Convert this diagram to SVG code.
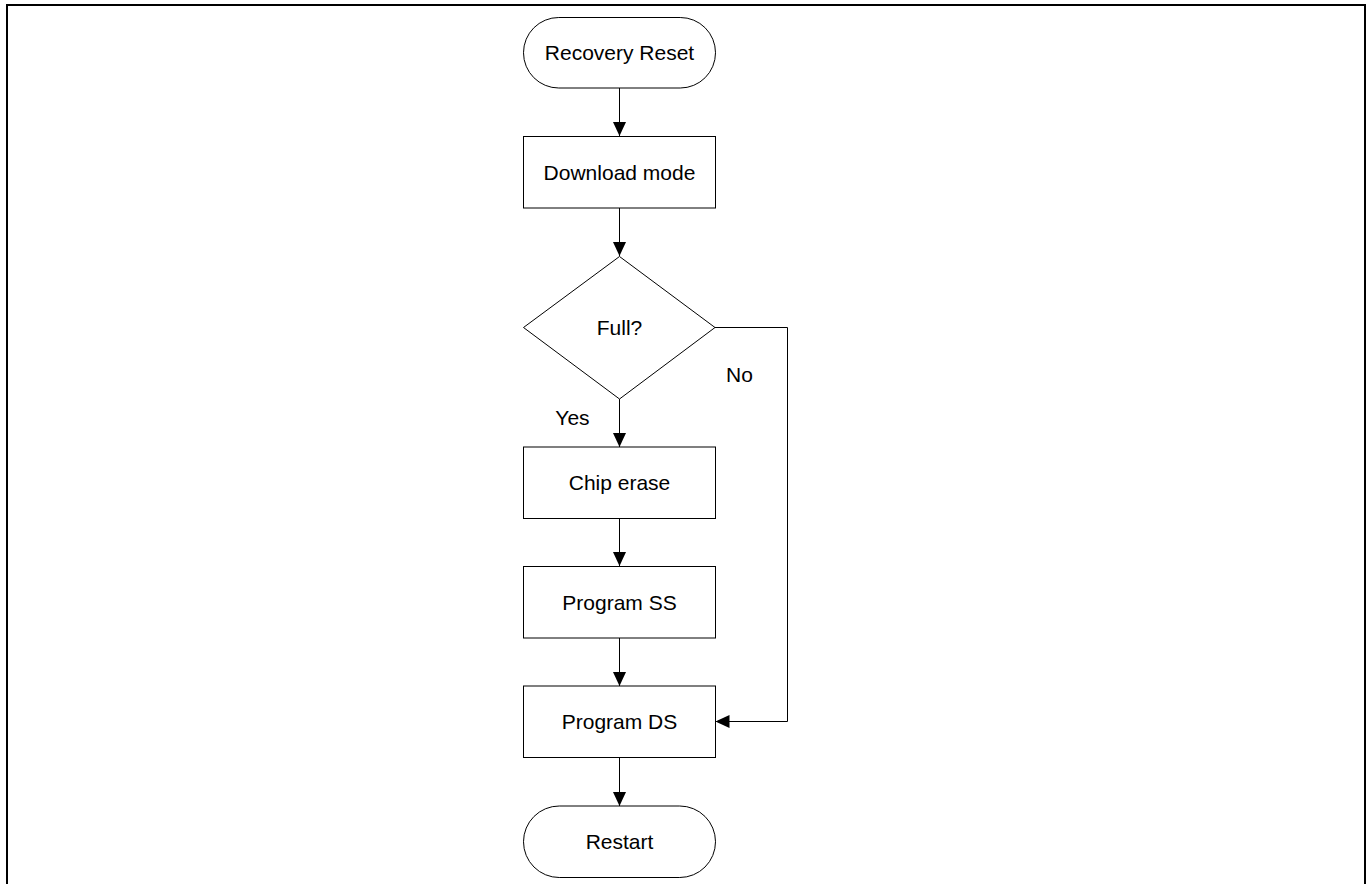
<svg xmlns="http://www.w3.org/2000/svg" width="1370" height="884" viewBox="0 0 1370 884">
<defs>
<style>
.shape{fill:#fff;stroke:#000;stroke-width:1}
.lbl{font-family:"Liberation Sans",Arial,sans-serif;font-size:21px;fill:#000;text-anchor:middle}
.edge{fill:none;stroke:#000;stroke-width:1}
</style>
<marker id="arr" markerWidth="13" markerHeight="14" refX="14" refY="6.5" orient="auto" markerUnits="userSpaceOnUse">
<path d="M0,0 L14,6.5 L0,13 Z" fill="#000"/>
</marker>
</defs>
<rect width="1370" height="884" fill="#fff"/>
<path d="M7,884 V5 H1365 V884" fill="none" stroke="#000" stroke-width="2"/>
<g id="connectors">
<line class="edge" x1="619.5" y1="88" x2="619.5" y2="136" marker-end="url(#arr)"/>
<line class="edge" x1="619.5" y1="208" x2="619.5" y2="256" marker-end="url(#arr)"/>
<line class="edge" x1="619.5" y1="399" x2="619.5" y2="447" marker-end="url(#arr)"/>
<line class="edge" x1="619.5" y1="518" x2="619.5" y2="566" marker-end="url(#arr)"/>
<line class="edge" x1="619.5" y1="638" x2="619.5" y2="686" marker-end="url(#arr)"/>
<line class="edge" x1="619.5" y1="757" x2="619.5" y2="806" marker-end="url(#arr)"/>
<polyline class="edge" points="715,327.5 787.5,327.5 787.5,721.5 715.5,721.5" marker-end="url(#arr)"/>
<text class="lbl" x="739.5" y="382">No</text>
<text class="lbl" x="572.5" y="424.5">Yes</text>
</g>
<g id="recovery-reset">
<rect class="shape" x="523.5" y="17.5" width="192" height="70.5" rx="35.25" ry="35.25"/>
<text class="lbl" x="619.5" y="60">Recovery Reset</text>
</g>
<g id="download-mode">
<rect class="shape" x="523.5" y="136.5" width="192" height="71.5"/>
<text class="lbl" x="619.5" y="180">Download mode</text>
</g>
<g id="full">
<polygon class="shape" points="619.5,256.5 715,327.5 619.5,399 523.5,327.5"/>
<text class="lbl" x="619.5" y="334.5">Full?</text>
</g>
<g id="chip-erase">
<rect class="shape" x="523.5" y="447" width="192" height="71.5"/>
<text class="lbl" x="619.5" y="490">Chip erase</text>
</g>
<g id="program-ss">
<rect class="shape" x="523.5" y="566.5" width="192" height="71.5"/>
<text class="lbl" x="619.5" y="609.5">Program SS</text>
</g>
<g id="program-ds">
<rect class="shape" x="523.5" y="686" width="192" height="71.5"/>
<text class="lbl" x="619.5" y="729">Program DS</text>
</g>
<g id="restart">
<rect class="shape" x="523.5" y="806" width="192" height="71.5" rx="35.75" ry="35.75"/>
<text class="lbl" x="619.5" y="849">Restart</text>
</g>
</svg>
